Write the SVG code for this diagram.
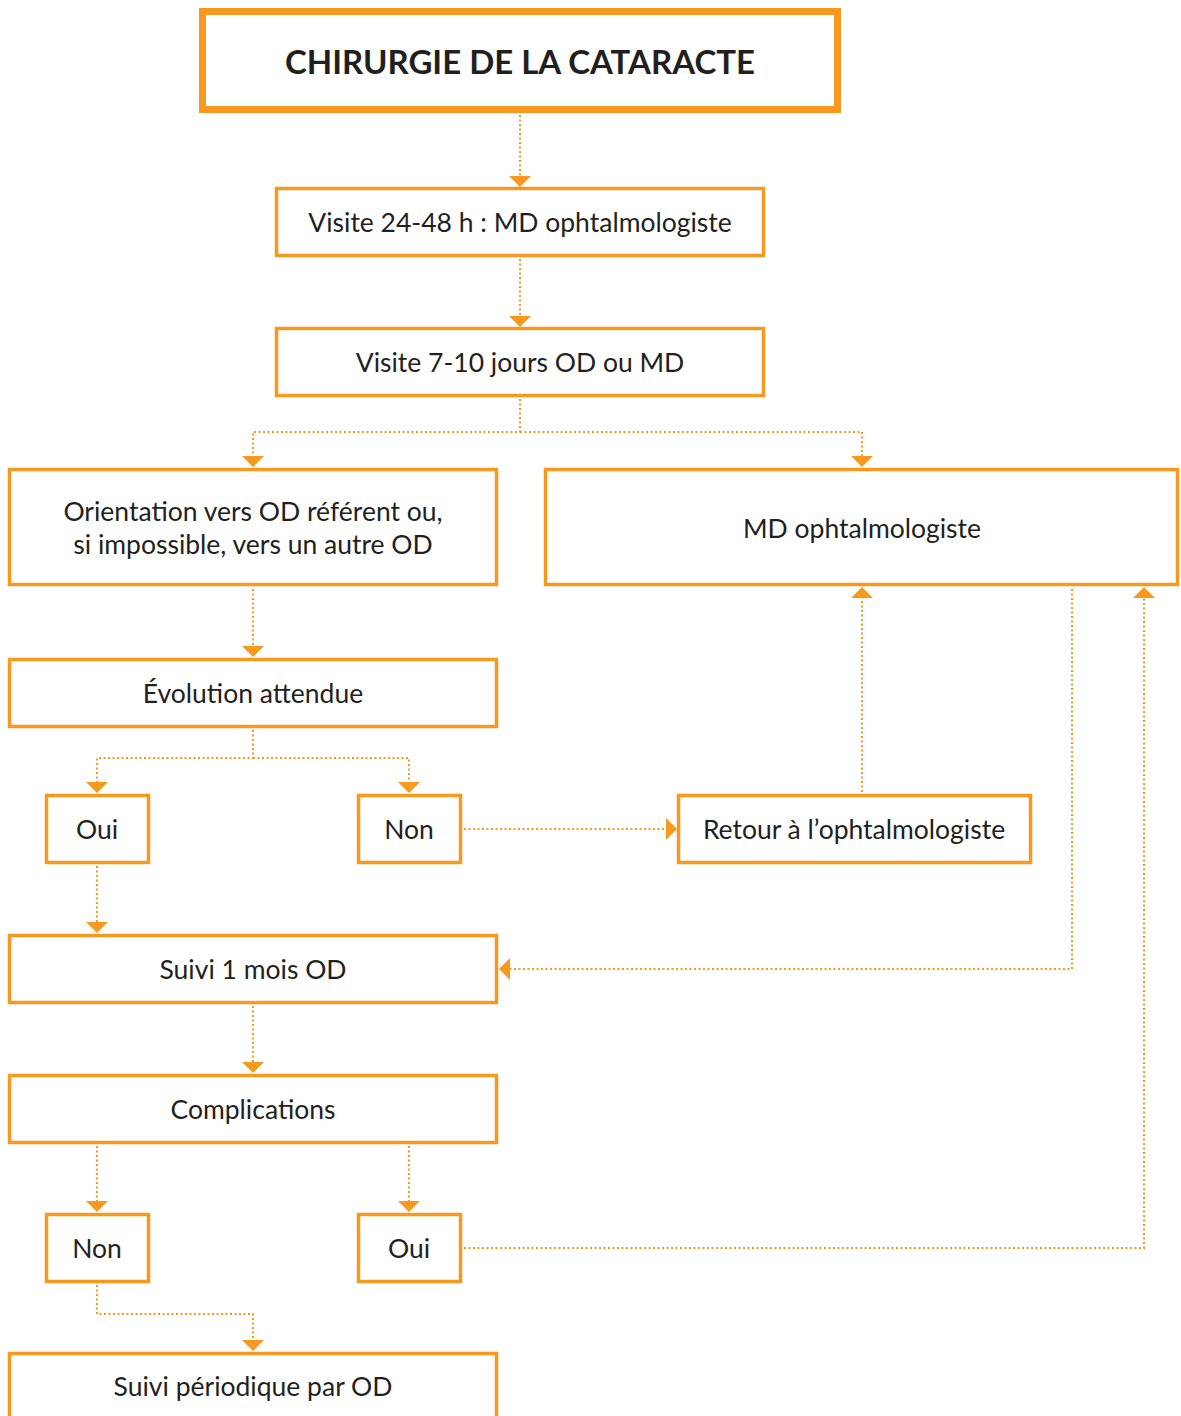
<svg xmlns="http://www.w3.org/2000/svg" width="1181" height="1416" viewBox="0 0 1181 1416">
<defs>
<style>
.box{fill:#fff;stroke:#F7991F;stroke-width:3.5}
.title{fill:#fff;stroke:#F7991F;stroke-width:7}
.t{font-family:Lato,"Liberation Sans",sans-serif;font-size:26.5px;fill:#231F20;text-anchor:middle}
.tb{font-family:Lato,"Liberation Sans",sans-serif;font-size:33px;font-weight:bold;fill:#231F20;text-anchor:middle}
.c{fill:none;stroke:#F7991F;stroke-width:2;stroke-dasharray:2 2.5}
.ah{fill:#F7991F}
</style>
</defs>
<rect width="1181" height="1416" fill="#fff"/>
<g id="connectors">
<path class="c" d="M520 115V177"/>
<path class="c" d="M520 259V317"/>
<path class="c" d="M520 399V432H253V457M520 432H862V457"/>
<path class="c" d="M253 589V648"/>
<path class="c" d="M253 730V758H97V784M253 758H409V784"/>
<path class="c" d="M464 829H667"/>
<path class="c" d="M862 792V598"/>
<path class="c" d="M1072 589V969H510"/>
<path class="c" d="M97 866V924"/>
<path class="c" d="M253 1006V1064"/>
<path class="c" d="M97 1146V1203M409 1146V1203"/>
<path class="c" d="M464 1248H1144V598"/>
<path class="c" d="M97 1285V1314H253V1342"/>
<path class="ah" d="M509 176H531L520 187Z"/>
<path class="ah" d="M509 316H531L520 327Z"/>
<path class="ah" d="M242 456H264L253 467Z"/>
<path class="ah" d="M851 456H873L862 467Z"/>
<path class="ah" d="M242 646H264L253 657Z"/>
<path class="ah" d="M86 782H108L97 793Z"/>
<path class="ah" d="M398 782H420L409 793Z"/>
<path class="ah" d="M666 818V840L677 829Z"/>
<path class="ah" d="M851 598H873L862 587Z"/>
<path class="ah" d="M510 958V980L499 969Z"/>
<path class="ah" d="M86 922H108L97 933Z"/>
<path class="ah" d="M242 1062H264L253 1073Z"/>
<path class="ah" d="M86 1201H108L97 1212Z"/>
<path class="ah" d="M398 1201H420L409 1212Z"/>
<path class="ah" d="M1133 598H1155L1144 587Z"/>
<path class="ah" d="M242 1340H264L253 1351Z"/>
</g>
<g id="n-title"><rect class="title" x="202.5" y="11.5" width="635" height="98"/><text class="tb" x="520" y="74">CHIRURGIE DE LA CATARACTE</text></g>
<g id="n-visite1"><rect class="box" x="276.5" y="188.5" width="487" height="67"/><text class="t" x="520" y="232">Visite 24-48 h : MD ophtalmologiste</text></g>
<g id="n-visite2"><rect class="box" x="276.5" y="328.5" width="487" height="67"/><text class="t" x="520" y="372">Visite 7-10 jours OD ou MD</text></g>
<g id="n-orientation"><rect class="box" x="9.5" y="469.5" width="487" height="115"/><text class="t" x="253" y="521">Orientation vers OD référent ou,</text><text class="t" x="253" y="554">si impossible, vers un autre OD</text></g>
<g id="n-md"><rect class="box" x="545.5" y="469.5" width="632" height="115"/><text class="t" x="862" y="538">MD ophtalmologiste</text></g>
<g id="n-evolution"><rect class="box" x="9.5" y="659.5" width="487" height="67"/><text class="t" x="253" y="703">Évolution attendue</text></g>
<g id="n-oui1"><rect class="box" x="46.5" y="795.5" width="102" height="67"/><text class="t" x="97" y="839">Oui</text></g>
<g id="n-non1"><rect class="box" x="358.5" y="795.5" width="102" height="67"/><text class="t" x="409" y="839">Non</text></g>
<g id="n-retour"><rect class="box" x="678.5" y="795.5" width="352" height="67"/><text class="t" x="854" y="839">Retour à l’ophtalmologiste</text></g>
<g id="n-suivi1"><rect class="box" x="9.5" y="935.5" width="487" height="67"/><text class="t" x="253" y="979">Suivi 1 mois OD</text></g>
<g id="n-complications"><rect class="box" x="9.5" y="1075.5" width="487" height="67"/><text class="t" x="253" y="1119">Complications</text></g>
<g id="n-non2"><rect class="box" x="46.5" y="1214.5" width="102" height="67"/><text class="t" x="97" y="1258">Non</text></g>
<g id="n-oui2"><rect class="box" x="358.5" y="1214.5" width="102" height="67"/><text class="t" x="409" y="1258">Oui</text></g>
<g id="n-suiviper"><rect class="box" x="9.5" y="1353.5" width="487" height="80"/><text class="t" x="253" y="1396">Suivi périodique par OD</text></g>
</svg>
